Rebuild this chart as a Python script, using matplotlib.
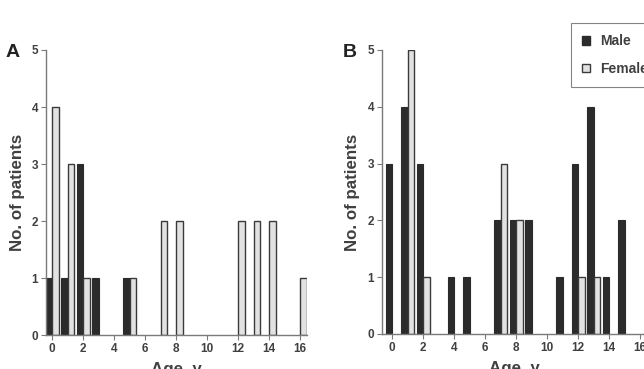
import matplotlib
matplotlib.use("Agg")
import matplotlib.pyplot as plt
from matplotlib.patches import Patch
import numpy as np

plt.rcParams['font.family'] = ['Liberation Sans', 'DejaVu Sans']
plt.rcParams['font.weight'] = 'bold'

# Panel A
a_male_age = [0, 1, 2, 3, 5]
a_male_n = [1, 1, 3, 1, 1]
a_female_age = [0, 1, 2, 5, 7, 8, 12, 13, 14, 16]
a_female_n = [4, 3, 1, 1, 2, 2, 2, 2, 2, 1]

# Panel B
b_male_age = [0, 1, 2, 4, 5, 7, 8, 9, 11, 12, 13, 14, 15]
b_male_n = [3, 4, 3, 1, 1, 2, 2, 2, 1, 3, 4, 1, 2]
b_female_age = [1, 2, 7, 8, 12, 13]
b_female_n = [5, 1, 3, 2, 1, 1]

xticks = list(range(0, 17, 2))
yticks = list(range(0, 6))

male_col = '#2b2b2b'
female_col = '#e2e2e2'
edge_col = '#3a3a3a'
text_col = '#404040'
spine_col = '#7a7a7a'
w = 0.42

fig = plt.figure(figsize=(6.44, 3.69), dpi=100)
axA = fig.add_axes([0.0714, 0.0921, 0.4053, 0.7724])
axB = fig.add_axes([0.5927, 0.0949, 0.412, 0.7696])

def draw(ax, ma, mn, fa, fn, xleft):
    ax.bar(np.array(ma) - w / 2, mn, width=w, color=male_col, edgecolor=male_col, linewidth=0.8)
    ax.bar(np.array(fa) + w / 2, fn, width=w, color=female_col, edgecolor=edge_col, linewidth=1.0)
    ax.set_xlim(xleft, 16.45)
    ax.set_ylim(0, 5)
    ax.set_xticks(xticks)
    ax.set_yticks(yticks)
    for s in ['top', 'right']:
        ax.spines[s].set_visible(False)
    for s in ['left', 'bottom']:
        ax.spines[s].set_color(spine_col)
        ax.spines[s].set_linewidth(1.0)
    ax.tick_params(axis='both', colors=spine_col, labelcolor=text_col, labelsize=8.5,
                   length=3.5, width=0.8, direction='out', pad=2)
    for lab in ax.get_xticklabels() + ax.get_yticklabels():
        lab.set_fontweight('bold')
    ax.set_ylabel('No. of patients', fontsize=12.2, fontweight='bold', color=text_col, labelpad=5)
    ax.set_xlabel('Age, y', fontsize=12.2, fontweight='bold', color=text_col, labelpad=5)

draw(axA, a_male_age, a_male_n, a_female_age, a_female_n, -0.39)
draw(axB, b_male_age, b_male_n, b_female_age, b_female_n, -0.68)

fig.text(0.008, 0.845, 'A', fontsize=14, fontweight='bold', color='#222222')
fig.text(0.532, 0.845, 'B', fontsize=14, fontweight='bold', color='#222222')

handles = [Patch(facecolor=male_col, edgecolor=male_col, label='Male'),
           Patch(facecolor=female_col, edgecolor=edge_col, label='Female')]
leg = fig.legend(handles=handles, loc='upper left', bbox_to_anchor=(0.886, 0.938),
                 frameon=True, fancybox=False, edgecolor='#666666',
                 prop={'weight': 'bold', 'size': 10}, handlelength=0.6, handleheight=0.6,
                 handletextpad=0.7, labelspacing=1.0, borderpad=0.8, borderaxespad=0)
leg.get_frame().set_linewidth(0.8)
for t in leg.get_texts():
    t.set_color(text_col)

fig.savefig('out.png', dpi=100)
